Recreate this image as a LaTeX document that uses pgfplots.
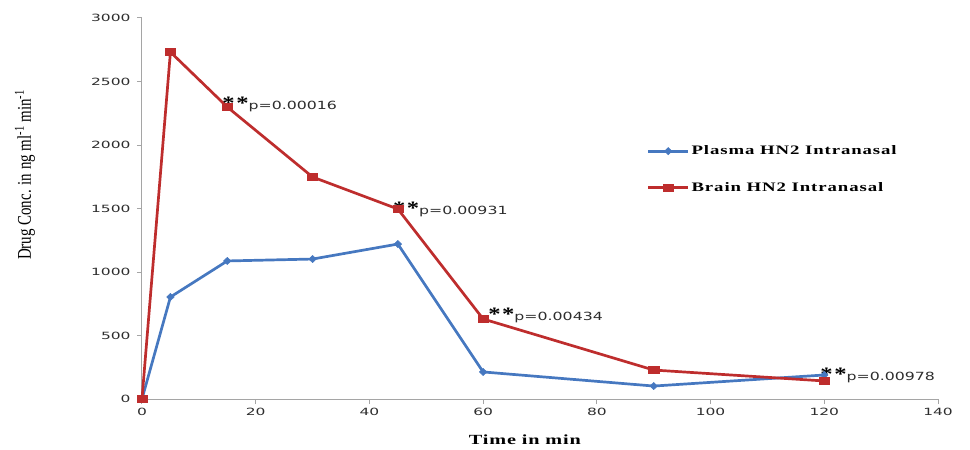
\documentclass[border=0pt]{standalone}
\usepackage{pgfplots}
\pgfplotsset{compat=1.18}
\usepackage{fontspec}
\setmainfont{Liberation Serif}
\newfontfamily\tickfont[FakeStretch=1.55]{DejaVu Sans}
\newfontfamily\pfont[FakeStretch=1.4]{DejaVu Sans}
\newfontfamily\labfont[FakeStretch=1.45,LetterSpace=6]{Liberation Serif}
\newfontfamily\legfont[FakeStretch=1.45,LetterSpace=7]{Liberation Serif}
\newfontfamily\starfont[FakeStretch=1.3,LetterSpace=8]{Liberation Serif}
\definecolor{plasma}{RGB}{70,120,192}
\definecolor{brain}{RGB}{190,45,45}
\definecolor{axgray}{RGB}{165,165,165}
\definecolor{txt}{RGB}{45,45,45}
\newcommand{\pann}[1]{{\starfont\bfseries\fontsize{19}{19}\selectfont **}{\pfont\fontsize{11.3}{13}\selectfont\color{txt}#1}}
\begin{document}
\begin{tikzpicture}
\useasboundingbox (-142bp,-51bp) rectangle (828bp,399bp);
\begin{axis}[
  at={(0,0)}, anchor=south west,
  scale only axis, width=796bp, height=381bp,
  xmin=0, xmax=140, ymin=0, ymax=3000,
  xtick={0,20,...,140}, ytick={0,500,...,3000},
  axis x line=bottom, axis y line=left,
  axis line style={axgray, line width=1bp, -},
  tick align=outside, major tick length=5bp,
  tick style={axgray, line width=1bp},
  /pgf/number format/1000 sep={},
  /pgf/number format/assume math mode=true,
  ticklabel style={font=\tickfont\fontsize{10}{12}\selectfont, text=txt},
  yticklabel style={xshift=-3bp},
  xticklabel style={yshift=-1bp},
  clip=false,
  xlabel={\bfseries Time in min},
  xlabel style={at={(axis description cs:0.481,-0.108)}, anchor=center,
    font=\labfont\fontsize{14}{16}\selectfont},
  ylabel={\scalebox{1}[1.3]{\fontsize{15}{17}\selectfont Drug Conc. in ng ml\textsuperscript{-1} min\textsuperscript{-1}}},
  ylabel style={at={(axis description cs:-0.147,0.588)}, anchor=center},
  legend style={draw=none, fill=none, at={(axis description cs:0.634,0.67)},
    anchor=north west, row sep=22bp, inner sep=0pt,
    font=\legfont\bfseries\fontsize{13}{15}\selectfont,
    legend cell align=left},
  legend image code/.code={\draw[mark repeat=2,mark phase=2,#1] plot coordinates {(0bp,0bp) (20bp,0bp) (40bp,0bp)};},
]
\addplot[plasma, line width=2.7bp, mark=diamond*, mark size=3.6bp,
  mark options={xscale=1.4, solid, fill=plasma, line width=0.5bp}]
  coordinates {(0,0) (5,803) (15,1087) (30,1102) (45,1220) (60,213) (90,102) (120,189)};
\addlegendentry{Plasma HN2 Intranasal}
\addplot[brain, line width=2.7bp, mark=square*, mark size=3.6bp,
  mark options={xscale=1.4, solid, fill=brain, line width=0.5bp}]
  coordinates {(0,0) (5,2732) (15,2299) (30,1748) (45,1496) (60,630) (90,228) (120,142)};
\addlegendentry{Brain HN2 Intranasal}
\node[anchor=base west, inner sep=0pt, xshift=-5bp, yshift=-2bp] at (axis cs:15,2299) {\pann{p=0.00016}};
\node[anchor=base west, inner sep=0pt, xshift=-5bp, yshift=-5bp] at (axis cs:45,1496) {\pann{p=0.00931}};
\node[anchor=base west, inner sep=0pt, xshift=5bp, yshift=-2bp] at (axis cs:60,630) {\pann{p=0.00434}};
\node[anchor=base west, inner sep=0pt, xshift=-4bp, yshift=0bp] at (axis cs:120,142) {\pann{p=0.00978}};
\end{axis}
\end{tikzpicture}
\end{document}
